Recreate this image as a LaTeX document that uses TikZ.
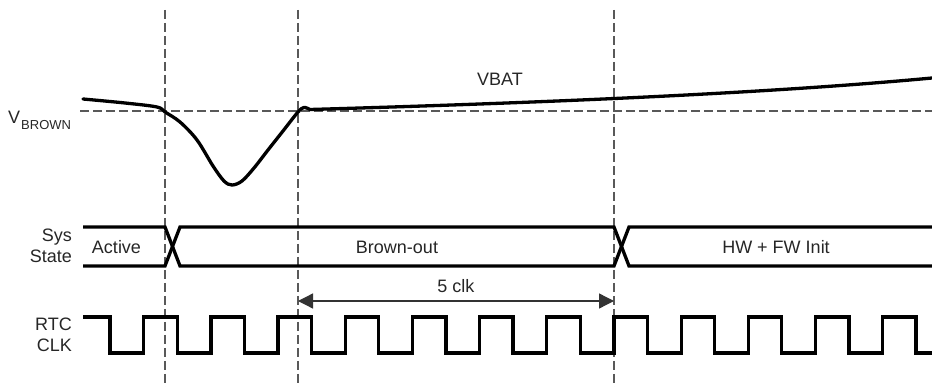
\documentclass[tikz,border=0pt]{standalone}
\usepackage{fontspec}
\setmainfont{Liberation Sans}
\usetikzlibrary{arrows.meta}
\begin{document}
\begin{tikzpicture}[x=1pt,y=-1pt,
  sig/.style={line width=3.3pt, draw=black},
  guide/.style={draw=black!65, line width=1.2pt, dash pattern=on 9pt off 4pt},
  lbl/.style={font=\fontsize{18}{21}\selectfont, text=black!85, inner sep=0pt},
  dimline/.style={line width=1.3pt, draw=black!80,
    {Triangle[length=15pt,width=15pt]}-{Triangle[length=15pt,width=15pt]}}]
\useasboundingbox (0,0) rectangle (932,387);
% guide coordinates
\coordinate (g1t) at (165,10);  \coordinate (g1b) at (165,387);
\coordinate (g2t) at (298,10);  \coordinate (g2b) at (298,387);
\coordinate (g3t) at (614,10);  \coordinate (g3b) at (614,387);
\coordinate (hbl) at (80,111);  \coordinate (hbr) at (932,111);
\draw[guide] (g1t) -- (g1b);
\draw[guide] (g2t) -- (g2b);
\draw[guide] (g3t) -- (g3b);
\draw[guide] (hbl) -- (hbr);
% VBAT curve
\draw[sig, line join=round, line cap=round] plot[smooth, tension=0.55] coordinates {(83,99) (125,103) (157,107) (165,112) (180,122) (197,140) (213,166) (224,181) (232,185) (242,181) (254,168) (268,150) (283,131) (298,112) (304,107.5) (310,109.5)}
  .. controls (500,104) and (750,95) .. (932,78);
% Sys state bus
\draw[sig] (83,227) -- (165,227) -- (180,266) -- (614,266) -- (629,227) -- (932,227);
\draw[sig] (83,266) -- (165,266) -- (180,227) -- (614,227) -- (629,266) -- (932,266);
% RTC clock
\draw[sig] (83,317) \foreach \i in {0,...,11} { -| ({110+67.17*\i},353) -| ({143.8+67.17*\i},317) } -| (916,353) -- (932,353);
% dimension arrow
\coordinate (a1) at (298,301);
\coordinate (a2) at (614,301);
\draw[dimline] (a1) -- (a2);
% labels
\node[lbl, anchor=base] (vbat) at (500,86) {VBAT};
\node[lbl, anchor=base west] (vbrown) at (8,124) {V\kern1pt\raisebox{-6pt}{\fontsize{13}{13}\selectfont BROWN}};
\node[lbl, anchor=base east] (sys1) at (72,242) {Sys};
\node[lbl, anchor=base east] (sys2) at (72,263) {State};
\node[lbl, anchor=base east] (rtc1) at (72,331) {RTC};
\node[lbl, anchor=base east] (rtc2) at (72,352) {CLK};
\node[lbl, anchor=base] (active) at (116.5,254) {Active};
\node[lbl, anchor=base] (brown) at (397,254) {Brown-out};
\node[lbl, anchor=base] (init) at (776,254) {HW + FW Init};
\node[lbl, anchor=base] (clk5) at (456,293) {5 clk};
\end{tikzpicture}
\end{document}
